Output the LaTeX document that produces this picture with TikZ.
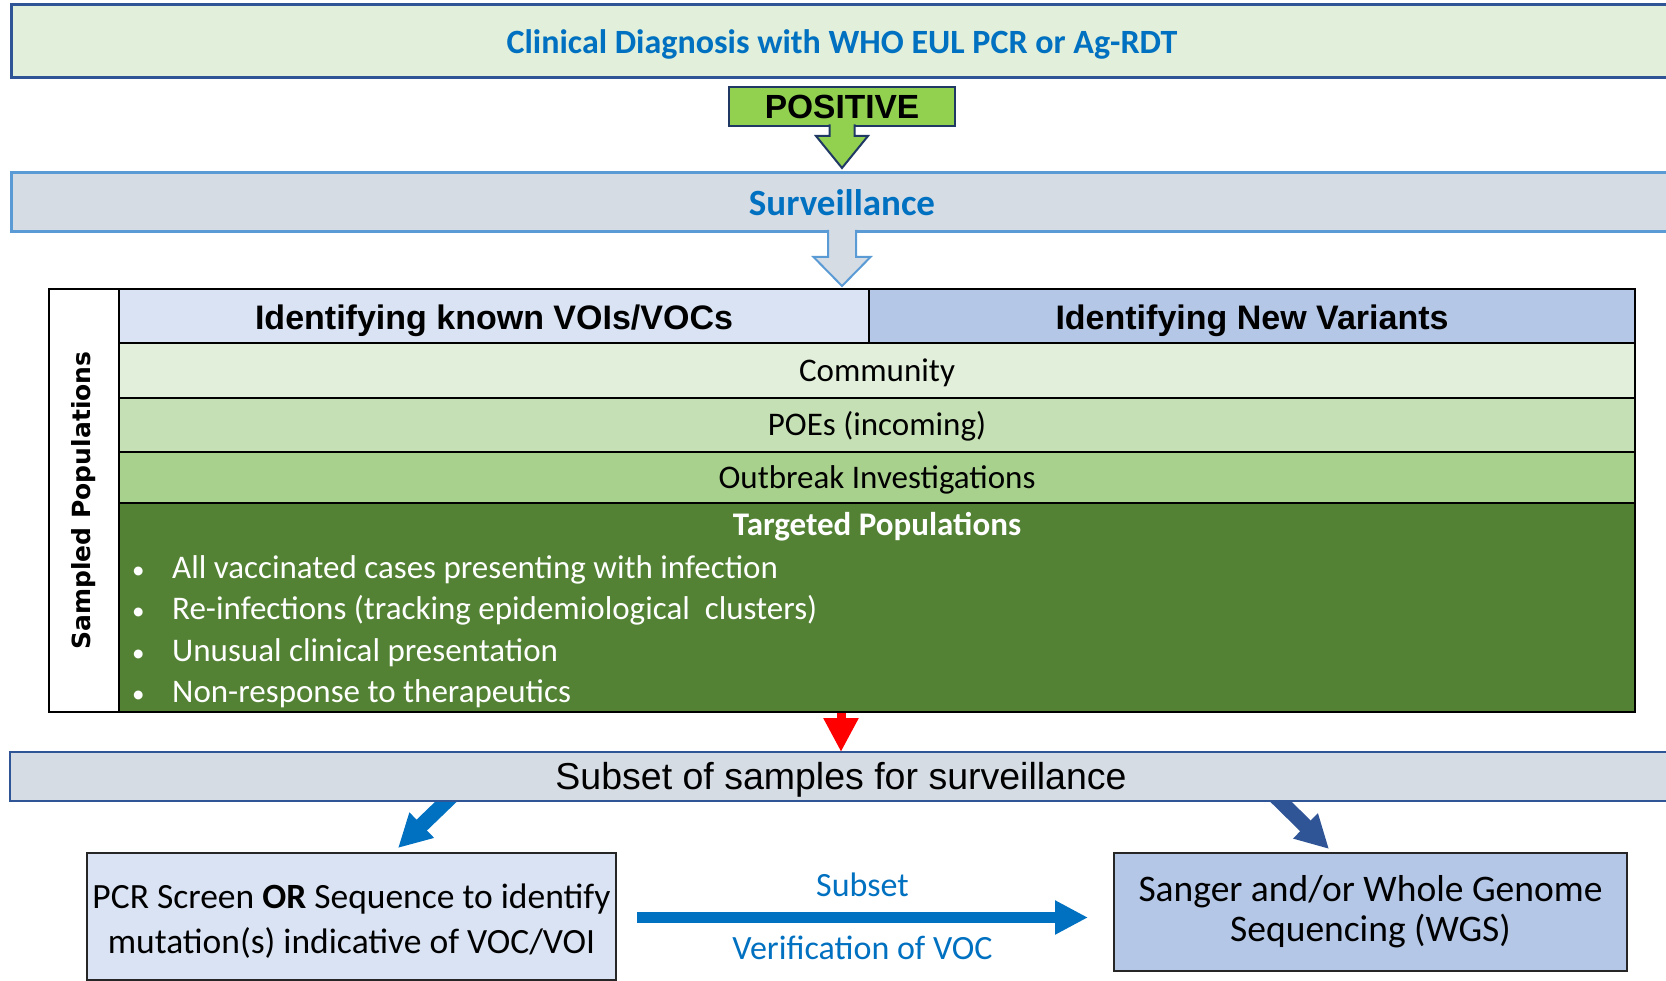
\documentclass[tikz,border=0pt]{standalone}
\usepackage{fontspec}
\setmainfont{Carlito}
\newfontfamily\arialfont{Liberation Sans}
\newfontfamily\widefont{DejaVu Sans}
\usepackage{xcolor}
\usetikzlibrary{
  arrows.meta,
  positioning,
  calc,
  backgrounds
}
\definecolor{diagblue}{HTML}{0070C0}
\definecolor{navy}{HTML}{2F5597}
\definecolor{survblue}{HTML}{5B9BD5}
\definecolor{survfill}{HTML}{D6DCE4}
\definecolor{paleblue}{HTML}{DAE3F3}
\definecolor{lightblue}{HTML}{B4C7E7}
\definecolor{rowcomm}{HTML}{E2EFDA}
\definecolor{rowpoes}{HTML}{C5E0B4}
\definecolor{rowoutbreak}{HTML}{A9D18E}
\definecolor{rowtarget}{HTML}{548235}
\definecolor{posgreen}{HTML}{92D050}
\definecolor{darknavy}{HTML}{1F3864}
\definecolor{darkgrey}{HTML}{262626}
\tikzset{
  bandbox/.style 2 args={
    rectangle, draw=#1, fill=#2, line width=2.5pt, anchor=north west,
    inner sep=0pt, outer sep=0pt, minimum width=1662pt
  },
  posbox/.style={
    rectangle, draw=darknavy, fill=posgreen, line width=2pt,
    minimum width=226pt, minimum height=39pt, inner sep=0pt, outer sep=0pt,
    font=\arialfont\bfseries\fontsize{33.5}{40}\selectfont
  },
  headbox/.style={
    rectangle, draw=black, fill=#1, line width=2pt, anchor=north west,
    inner sep=0pt, outer sep=0pt, minimum height=54pt,
    text height=27pt, text depth=0pt,
    font=\arialfont\bfseries\fontsize{34}{40}\selectfont
  },
  rowbox/.style={
    rectangle, draw=black, fill=#1, line width=2pt, anchor=north west,
    inner sep=0pt, outer sep=0pt, minimum width=1516pt,
    text height=22pt, text depth=0pt,
    font=\fontsize{33}{40}\selectfont
  },
  itembox/.style={
    anchor=base west, inner sep=0pt, text=white,
    font=\fontsize{33}{40}\selectfont
  },
  resultbox/.style={
    rectangle, draw=darkgrey, fill=#1, line width=2pt, anchor=north west,
    inner sep=0pt, outer sep=0pt, align=center
  },
  blockarrow/.style 2 args={
    fill=#1, draw=#2, line width=2pt, line join=miter
  },
  diagarrow/.style={
    -{Triangle[length=33pt,width=33pt]}, line width=15pt, color=#1
  },
  annot/.style={
    font=\fontsize{34}{40}\selectfont, text=diagblue, inner sep=0pt
  },
}

\begin{document}
\begin{tikzpicture}[x=1pt, y=-1pt]
  \useasboundingbox (0,0) rectangle (1666,981);
  % diagnosis and surveillance bands
  \node[bandbox={navy}{rowcomm}, line width=3pt, minimum height=73pt,
    text height=25pt, text depth=0pt,
    font=\bfseries\fontsize{34}{40}\selectfont, text=diagblue] (diag) at (11,5)
    {Clinical Diagnosis with WHO EUL PCR or Ag-RDT};
  \node[posbox] (pos) at (842,106.5) {POSITIVE};
  \filldraw[blockarrow={posgreen}{darknavy}] ($(pos.south)+(-12.5,-1.5)$) -- ++(0,11.5) -- ++(-13.5,0)
    -- ($(pos.south)+(0,42)$) -- ($(pos.south)+(26,10)$) -- ++(-13.5,0) -- ++(0,-11.5);
  \node[bandbox={survblue}{survfill}, line width=3pt, minimum height=59pt,
    font=\bfseries\fontsize{37}{42}\selectfont, text=diagblue] (surv) at (11,173)
    {Surveillance};
  \filldraw[blockarrow={survfill}{survblue}] ($(surv.south)+(-14,-2)$) -- ++(0,27) -- ++(-14.5,0)
    -- ($(surv.south)+(0,54)$) -- ($(surv.south)+(28.5,25)$) -- ++(-14.5,0) -- ++(0,-27);

  % sampled populations table
  \node[rowbox=white, minimum width=70pt, minimum height=423pt] (side) at (49,289) {};
  \node[rotate=90, font=\widefont\bfseries\fontsize{25}{28}\selectfont] (sidetext)
    at (side.center) {Sampled Populations};
  \node[headbox=paleblue, minimum width=750pt] (known) at (side.north east) {Identifying known VOIs/VOCs};
  \node[headbox=lightblue, minimum width=766pt] (new) at (known.north east) {Identifying New Variants};
  \node[rowbox=rowcomm, minimum height=55pt] (community) at (known.south west) {Community};
  \node[rowbox=rowpoes, minimum height=54pt] (poes) at (community.south west) {POEs (incoming)};
  \node[rowbox=rowoutbreak, minimum height=51pt] (outbreak) at (poes.south west) {Outbreak Investigations};
  \node[rowbox=rowtarget, minimum height=209pt] (targeted) at (outbreak.south west) {};
  \node[font=\bfseries\fontsize{33}{40}\selectfont, text=white, anchor=base] (tgtitle)
    at ($(targeted.north)+(0,32)$) {Targeted Populations};
  \foreach \txt [count=\i] in {All vaccinated cases presenting with infection,
      Re-infections (tracking epidemiological\ \ clusters),
      Unusual clinical presentation, Non-response to therapeutics}
    \node[itembox] (item\i) at ($(targeted.north west)+(11,{75+(\i-1)*41.5})$)
      {\makebox[42pt][l]{\hspace{2pt}\fontsize{25}{25}\selectfont\textbullet}\txt};

  % subset and sequencing
  \node[bandbox={navy}{survfill}, minimum height=49pt, text height=25pt, text depth=0pt,
    font=\arialfont\fontsize{37.5}{42}\selectfont] (subset) at (10,752)
    {Subset of samples for surveillance};
  \node[resultbox=paleblue, minimum width=529pt, minimum height=127pt,
    text height=73pt, text depth=0pt,
    font=\fontsize{35.5}{45}\selectfont] (pcr) at (87,853)
    {PCR Screen \textbf{OR} Sequence to identify\\mutation(s) indicative of VOC/VOI};
  \node[resultbox=lightblue, minimum width=513pt, minimum height=118pt,
    font=\fontsize{37.5}{40}\selectfont] (wgs) at (1114,853)
    {Sanger and/or Whole Genome\\Sequencing (WGS)};
  \begin{scope}[on background layer]
    \draw[-{Triangle[length=34pt,width=33pt]}, line width=9pt, red]
      (targeted.south -| subset.north) -- (subset.north);
    \draw[diagarrow=diagblue] ($(subset.south west)+(444,-7)$) -- ($(pcr.north west)+(311,-5)$);
    \draw[diagarrow=navy] ($(subset.south west)+(1263,-7)$) -- ($(wgs.north west)+(215,-4)$);
  \end{scope}
  \draw[-{Triangle[length=33pt,width=32pt]}, line width=11pt, diagblue]
    ($(pcr.east)+(21,1)$) -- ($(pcr.east -| wgs.west)+(-26,1)$)
    node[annot, midway, above=15pt] (sublabel) {Subset}
    node[annot, midway, below=13pt] (verlabel) {Verification of VOC};
\end{tikzpicture}
\end{document}
